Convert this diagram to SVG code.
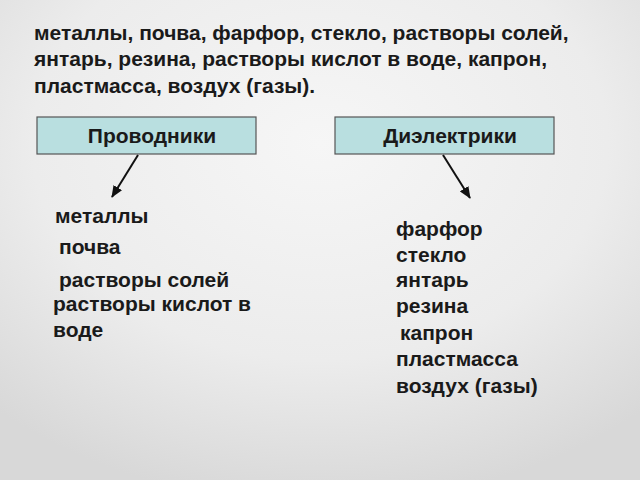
<svg xmlns="http://www.w3.org/2000/svg" width="640" height="480" viewBox="0 0 640 480">
<defs>
<radialGradient id="bg" cx="0.5" cy="0.3" r="0.75">
<stop offset="0" stop-color="#f6f6f6"/>
<stop offset="0.6" stop-color="#ececec"/>
<stop offset="1" stop-color="#d8d8d8"/>
</radialGradient>
<marker id="ah" viewBox="0 0 12 10" refX="11" refY="5" markerWidth="6" markerHeight="5" orient="auto" markerUnits="strokeWidth">
<path d="M0,0 L12,5 L0,10 z" fill="#111"/>
</marker>
<style>
text{font-family:"Liberation Sans",Arial,sans-serif;font-weight:bold;fill:#1a1a1a}
.t{font-size:21px}
.l{font-size:21px}
.box{fill:#b9dfe0;stroke:#555;stroke-width:1.2}
.c{stroke:#111;stroke-width:2;fill:none;marker-end:url(#ah)}
</style>
</defs>
<rect width="640" height="480" fill="url(#bg)"/>
<g id="title">
<text class="t" x="34" y="40">металлы, почва, фарфор, стекло, растворы солей,</text>
<text class="t" x="34" y="66">янтарь, резина, растворы кислот в воде, капрон,</text>
<text class="t" x="34" y="93">пластмасса, воздух (газы).</text>
</g>
<g id="conductors">
<rect class="box" x="37" y="117" width="219" height="37"/>
<text class="l" x="152" y="143" text-anchor="middle">Проводники</text>
</g>
<g id="dielectrics">
<rect class="box" x="335" y="117" width="219" height="37"/>
<text class="l" x="450" y="143" text-anchor="middle">Диэлектрики</text>
</g>
<g id="connectors">
<line class="c" x1="138" y1="155" x2="112" y2="197"/>
<line class="c" x1="443" y1="155" x2="470" y2="198"/>
</g>
<g id="conductor-list">
<text class="l" x="55" y="223">металлы</text>
<text class="l" x="59" y="254">почва</text>
<text class="l" x="59" y="287">растворы солей</text>
<text class="l" x="53" y="311">растворы кислот в</text>
<text class="l" x="53" y="337">воде</text>
</g>
<g id="dielectric-list">
<text class="l" x="396" y="236">фарфор</text>
<text class="l" x="396" y="262">стекло</text>
<text class="l" x="396" y="287">янтарь</text>
<text class="l" x="396" y="313">резина</text>
<text class="l" x="400" y="340">капрон</text>
<text class="l" x="396" y="366">пластмасса</text>
<text class="l" x="396" y="393">воздух (газы)</text>
</g>
</svg>
